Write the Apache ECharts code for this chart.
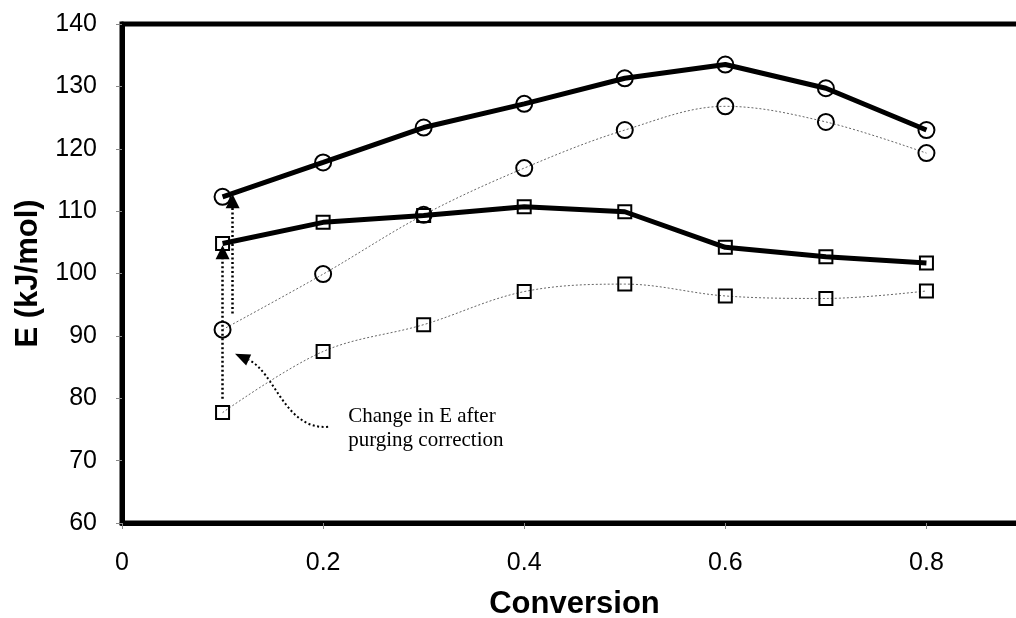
<!DOCTYPE html>
<html>
<head>
<meta charset="utf-8">
<script src="https://cdn.jsdelivr.net/npm/echarts@6/dist/echarts.min.js"></script>
<style>
  html, body { margin: 0; padding: 0; background: #fff; }
  #chart { width: 1016px; height: 618px; }
</style>
</head>
<body>
<div id="chart"></div>
<script>
// Conversion levels and apparent activation energies (kJ/mol)
const conversion = [0.1, 0.2, 0.3, 0.4, 0.5, 0.6, 0.7, 0.8];
const circleCorrected = [112.3, 117.8, 123.4, 127.2, 131.3, 133.5, 129.7, 123.0];
const circleRaw = [91.0, 99.9, 109.4, 116.9, 123.0, 126.8, 124.3, 119.3];
const squareCorrected = [104.8, 108.2, 109.3, 110.7, 109.9, 104.2, 102.7, 101.7];
const squareRaw = [77.7, 87.5, 91.8, 97.1, 98.3, 96.4, 96.0, 97.2];
const xTickLabels = [0, 0.2, 0.4, 0.6, 0.8];

// Annotation anchors, in axis units [conversion, E]
const squareShift = [[0.1, 79.9], [0.1, 103.4]];
const circleShift = [[0.11, 93.6], [0.11, 111.6]];
const curvePath = [[0.205, 75.43], [0.1622, 74.8], [0.1522, 84.2], [0.1124, 87.14]];
const noteAnchor = [0.2249, 79.0];
const noteText = 'Change in E after\npurging correction';

const pairs = ys => conversion.map((x, i) => [x, ys[i]]);

const chart = echarts.init(document.getElementById('chart'), null, { renderer: 'canvas' });

const thick = { color: '#000', width: 5 };
const thin = { color: '#666', width: 1, type: [2, 2] };
const hollow = { color: 'rgba(0,0,0,0)', borderColor: '#000', borderWidth: 2 };

function series(data, symbol, size, lineStyle, smooth, extra) {
  return Object.assign({
    type: 'line',
    data: pairs(data),
    symbol: symbol,
    symbolSize: size,
    showAllSymbol: true,
    smooth: smooth,
    lineStyle: lineStyle,
    itemStyle: hollow,
    emphasis: { disabled: true },
    silent: true,
    z: smooth ? 2 : 3
  }, extra || {});
}

const arrowLine = (pts) => [
  { coord: pts[0], symbol: 'none' },
  { coord: pts[1], symbol: 'triangle' }
];

chart.setOption({
  animation: false,
  grid: {
    left: 122, top: 24, width: 905, height: 499,
    outerBoundsMode: 'none', containLabel: false,
    show: true, borderColor: '#000', borderWidth: 5, backgroundColor: 'transparent'
  },
  xAxis: {
    type: 'value', min: 0, max: 0.9, interval: 0.2,
    name: 'Conversion', nameLocation: 'middle', nameGap: 66,
    nameTextStyle: { fontFamily: 'Liberation Sans, Arial', fontSize: 31, fontWeight: 'bold', color: '#000' },
    axisLine: { show: true, lineStyle: { color: '#000', width: 5 } },
    axisTick: { show: true, length: 6, lineStyle: { color: '#888', width: 1 } },
    splitLine: { show: false },
    axisLabel: {
      showMaxLabel: false,
      margin: 28,
      fontFamily: 'Liberation Sans, Arial', fontSize: 25, color: '#000',
      formatter: v => xTickLabels.some(t => Math.abs(t - v) < 1e-9) ? String(+v.toFixed(1)) : ''
    }
  },
  yAxis: {
    type: 'value', min: 60, max: 140, interval: 10,
    name: 'E (kJ/mol)', nameLocation: 'middle', nameGap: 78,
    nameTextStyle: { fontFamily: 'Liberation Sans, Arial', fontSize: 31, fontWeight: 'bold', color: '#000' },
    axisLine: { show: true, lineStyle: { color: '#000', width: 5 } },
    axisTick: { show: true, length: 6, lineStyle: { color: '#888', width: 1 } },
    splitLine: { show: false },
    axisLabel: { margin: 25, fontFamily: 'Liberation Sans, Arial', fontSize: 25, color: '#000' }
  },
  series: [
    series(circleRaw, 'circle', 16, thin, 0.35),
    series(squareRaw, 'rect', 13, thin, 0.35, {
      markLine: {
        silent: true, symbolSize: [14, 14],
        label: { show: false },
        lineStyle: { color: '#000', width: 2.5, type: [2, 2.5] },
        data: [arrowLine(squareShift), arrowLine(circleShift)]
      }
    }),
    series(circleCorrected, 'circle', 16, thick, false),
    series(squareCorrected, 'rect', 13, thick, false)
  ]
});

// Curved pointer and note, placed through the grid's coordinate system
const px = p => chart.convertToPixel({ gridIndex: 0 }, p);
const [p0, p1, p2, p3] = curvePath.map(px);
const dx = p3[0] - p2[0], dy = p3[1] - p2[1];
const len = Math.hypot(dx, dy);
const ux = dx / len, uy = dy / len;
const headLen = 15, headHalf = 6;
const base = [p3[0] - ux * headLen, p3[1] - uy * headLen];
const note = px(noteAnchor);

chart.setOption({
  graphic: [
    {
      type: 'bezierCurve', silent: true,
      shape: { x1: p0[0], y1: p0[1], cpx1: p1[0], cpy1: p1[1], cpx2: p2[0], cpy2: p2[1],
               x2: base[0], y2: base[1] },
      style: { stroke: '#000', lineWidth: 2, lineDash: [2, 2.5], fill: null }
    },
    {
      type: 'polygon', silent: true,
      shape: { points: [p3,
        [base[0] - uy * headHalf, base[1] + ux * headHalf],
        [base[0] + uy * headHalf, base[1] - ux * headHalf]] },
      style: { fill: '#000' }
    },
    {
      type: 'text', silent: true,
      x: note[0], y: note[1],
      style: { text: noteText, fontFamily: 'Liberation Serif, Times New Roman', fontSize: 21,
               lineHeight: 24, fill: '#000', align: 'left', verticalAlign: 'top' }
    }
  ]
});
</script>
</body>
</html>
